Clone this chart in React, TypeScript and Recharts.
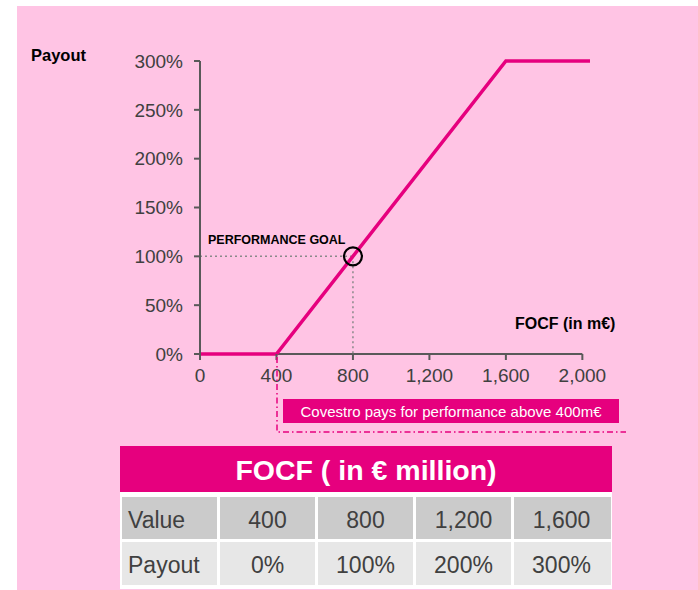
import React from 'react';
import { LineChart, Line, XAxis, YAxis, ReferenceLine, ReferenceDot } from 'recharts';

// payout curve (FOCF in m€ -> payout in %)
const focfValues = [0, 400, 1600, 2040];
const payoutValues = [0, 0, 300, 300];
const xTicks = [0, 400, 800, 1200, 1600, 2000];
const yTicks = [0, 50, 100, 150, 200, 250, 300];
const goalFocf = 800;
const goalPayout = 100;

// table below the chart
const tableTitle = 'FOCF ( in € million)';
const rowLabels = ['Value', 'Payout'];
const tableValues = ['400', '800', '1,200', '1,600'];
const tablePayouts = ['0%', '100%', '200%', '300%'];

const MAGENTA = '#E6007E';
const PINK = '#FFC4E4';
const AXIS = '#595959';
const TEXT = '#404040';
const FONT = '"Liberation Sans", Arial, sans-serif';

const data = focfValues.map((x, i) => ({ focf: x, payout: payoutValues[i] }));

function Table() {
  const left = 122;
  const cellW = 95;
  const gap = 3;
  const rows = [
    { label: rowLabels[0], cells: tableValues, y: 497, h: 42, fill: '#CBCBCB' },
    { label: rowLabels[1], cells: tablePayouts, y: 542, h: 43, fill: '#E7E7E7' },
  ];
  return (
    <g fontFamily={FONT}>
      <rect x={120} y={446} width={492} height={143} fill="#fff" />
      <rect x={120} y={446} width={492} height={46} fill={MAGENTA} />
      <text x={366} y={480} textAnchor="middle" fill="#fff" fontSize={28.5} fontWeight={700}>
        {tableTitle}
      </text>
      {rows.map((r) => (
        <g key={r.label}>
          <rect x={left} y={r.y} width={cellW} height={r.h} fill={r.fill} />
          <text x={left + 6} y={r.y + 31} fill={TEXT} fontSize={23}>
            {r.label}
          </text>
          {r.cells.map((c, i) => {
            const x = left + (i + 1) * (cellW + gap);
            return (
              <g key={c}>
                <rect x={x} y={r.y} width={i === 3 ? 97 : cellW} height={r.h} fill={r.fill} />
                <text x={x + cellW / 2} y={r.y + 31} textAnchor="middle" fill={TEXT} fontSize={23}>
                  {c}
                </text>
              </g>
            );
          })}
        </g>
      ))}
    </g>
  );
}

export default function App() {
  return (
    <div style={{ position: 'absolute', left: 0, top: 0, width: 698, height: 590, background: '#fff', overflow: 'hidden' }}>
      <div style={{ position: 'absolute', left: 17, top: 6, width: 681, height: 584, background: PINK }} />
      <div style={{ position: 'absolute', left: 0, top: 0 }}>
        <LineChart
          width={698}
          height={440}
          data={data}
          margin={{ top: 61, right: 108, bottom: 56, left: 0 }}
        >
          <XAxis
            type="number"
            dataKey="focf"
            domain={[0, 2040]}
            ticks={xTicks}
            interval={0}
            height={30}
            axisLine={false}
            tickLine={{ stroke: AXIS, strokeWidth: 2 }}
            tickSize={6}
            tickMargin={9}
            tick={{ fontSize: 19, fill: TEXT, fontFamily: FONT }}
            tickFormatter={(v: number) => v.toLocaleString('en-US')}
          />
          <YAxis
            type="number"
            domain={[0, 300]}
            ticks={yTicks}
            interval={0}
            width={200}
            axisLine={{ stroke: AXIS, strokeWidth: 2 }}
            tickLine={{ stroke: AXIS, strokeWidth: 2 }}
            tickSize={6}
            tickMargin={11}
            tick={{ fontSize: 19, fill: TEXT, fontFamily: FONT }}
            tickFormatter={(v: number) => `${v}%`}
          />
          <ReferenceLine
            segment={[{ x: 0, y: 0 }, { x: 2000, y: 0 }]}
            stroke={AXIS}
            strokeWidth={2}
          />
          <ReferenceLine
            segment={[{ x: 0, y: goalPayout }, { x: goalFocf, y: goalPayout }]}
            stroke="#8a8a8a"
            strokeWidth={1.5}
            strokeDasharray="2 3"
          />
          <ReferenceLine
            segment={[{ x: goalFocf, y: goalPayout }, { x: goalFocf, y: 0 }]}
            stroke="#8a8a8a"
            strokeWidth={1.5}
            strokeDasharray="2 3"
          />
          <Line
            type="linear"
            dataKey="payout"
            stroke={MAGENTA}
            strokeWidth={3.5}
            dot={false}
            isAnimationActive={false}
          />
          <ReferenceDot
            x={goalFocf}
            y={goalPayout}
            r={9}
            fill="none"
            stroke="#000"
            strokeWidth={2.2}
          />
        </LineChart>
      </div>
      <svg width={698} height={590} style={{ position: 'absolute', left: 0, top: 0, pointerEvents: 'none' }}>
        <text x={31} y={61} fontFamily={FONT} fontSize={16.5} fontWeight={700} fill="#000">Payout</text>
        <text x={208} y={244} fontFamily={FONT} fontSize={12.5} fontWeight={700} fill="#000">PERFORMANCE GOAL</text>
        <text x={515} y={329} fontFamily={FONT} fontSize={16} fontWeight={700} fill="#000">FOCF (in m€)</text>
        <path d="M 277 357 V 432 H 626" fill="none" stroke={MAGENTA} strokeWidth={1.5} strokeDasharray="6 3 1.5 3" />
        <rect x={283} y={399} width={336} height={24} fill={MAGENTA} />
        <text x={451} y={417} textAnchor="middle" fontFamily={FONT} fontSize={15} fill="#fff">
          Covestro pays for performance above 400m€
        </text>
        <Table />
      </svg>
    </div>
  );
}
